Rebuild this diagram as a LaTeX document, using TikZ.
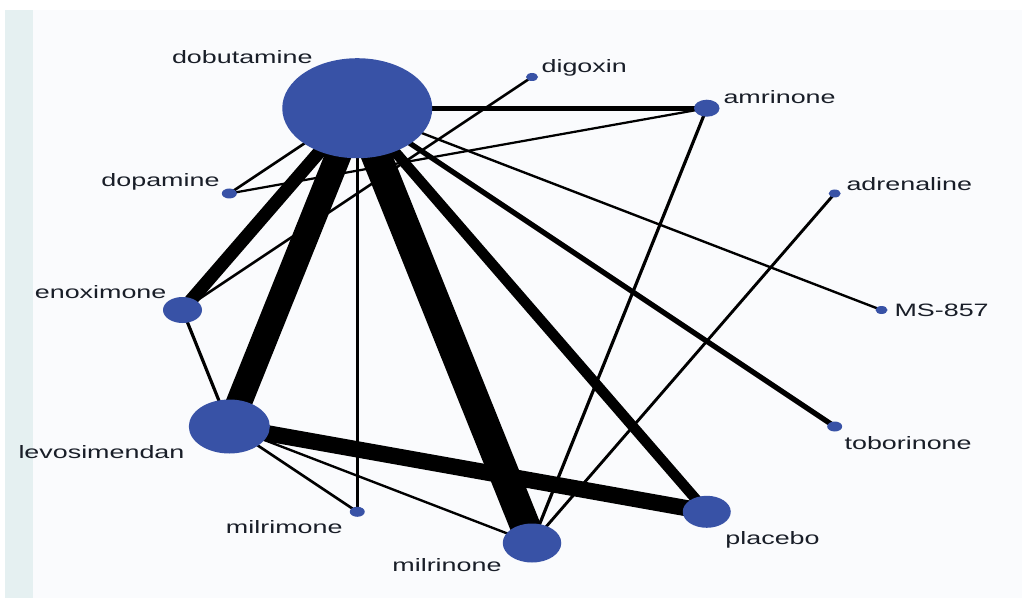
\documentclass[tikz,border=0pt]{standalone}
\usepackage{fontspec}
\setmainfont{Liberation Sans}
\usetikzlibrary{backgrounds}
\definecolor{netblue}{RGB}{56,82,166}
\definecolor{stripteal}{RGB}{229,240,241}
\definecolor{panelgray}{RGB}{250,251,253}
\definecolor{labink}{RGB}{25,30,40}

\begin{document}
\begin{tikzpicture}[
  x=0.2mm, y=0.2mm,
  trt/.style={circle, fill=netblue, draw=none, inner sep=0pt, minimum size=#1*0.4mm},
  lab/.style={font=\fontsize{10.2}{12}\selectfont, text=labink, inner sep=0pt},
  comp/.style={line width=#1*0.2mm, black},
  comp/.default=2.2
]
\useasboundingbox (0,0) rectangle (1022,-600);
% network drawn on a circle, stretched sideways like the printed figure
\begin{scope}[transform canvas={xscale=1.5}]
  \begin{scope}[shift={(354.67,-310)}]
    \node[trt=50]   (dobu)  at (120:233) {};
    \node[trt=4]    (digo)  at (90:233)  {};
    \node[trt=8.5]  (amri)  at (60:233)  {};
    \node[trt=4]    (adre)  at (30:233)  {};
    \node[trt=4]    (ms857) at (0:233)   {};
    \node[trt=5]    (tobo)  at (-30:233) {};
    \node[trt=16]   (plac)  at (-60:233) {};
    \node[trt=19.5] (milri) at (-90:233) {};
    \node[trt=5]    (milm)  at (-120:233) {};
    \node[trt=27]   (levo)  at (-150:233) {};
    \node[trt=13]   (enox)  at (180:233) {};
    \node[trt=5]    (dopa)  at (150:233) {};
  \end{scope}
  \node[lab, anchor=east] (dobulab)  at (208.7,-57)  {dobutamine};
  \node[lab, anchor=west] (digolab)  at (360.7,-68)  {digoxin};
  \node[lab, anchor=west] (amrilab)  at (482,-97)    {amrinone};
  \node[lab, anchor=west] (adrelab)  at (564,-184)   {adrenaline};
  \node[lab, anchor=west] (mslab)    at (596,-310)   {MS-857};
  \node[lab, anchor=west] (tobolab)  at (562.7,-443) {toborinone};
  \node[lab, anchor=west] (placlab)  at (483.3,-540) {placebo};
  \node[lab, anchor=east] (milrilab) at (334.7,-565) {milrinone};
  \node[lab, anchor=east] (milmlab)  at (228.7,-527) {milrimone};
  \node[lab, anchor=east] (levolab)  at (123.3,-452) {levosimendan};
  \node[lab, anchor=east] (enoxlab)  at (111.3,-292) {enoximone};
  \node[lab, anchor=east] (dopalab)  at (146.7,-182) {dopamine};
\end{scope}
\begin{scope}[on background layer]
  \fill[stripteal] (5,-10) rectangle (33,-598);
  \fill[panelgray] (33,-10) rectangle (1022,-598);
  \begin{scope}[transform canvas={xscale=1.5}]
    % comparisons, width ~ number of trials
    \draw[comp=21] (dobu.center) -- (milri.center);
    \draw[comp=18] (dobu.center) -- (levo.center);
    \draw[comp=16] (levo.center) -- (plac.center);
    \draw[comp=10] (dobu.center) -- (enox.center);
    \draw[comp=8]  (dobu.center) -- (plac.center);
    \draw[comp=5]  (dobu.center) -- (amri.center);
    \draw[comp=4.5] (dobu.center) -- (tobo.center);
    \draw[comp] (dobu.center) -- (dopa.center);
    \draw[comp] (dobu.center) -- (milm.center);
    \draw[comp] (dobu.center) -- (ms857.center);
    \draw[comp] (dopa.center) -- (amri.center);
    \draw[comp] (digo.center) -- (enox.center);
    \draw[comp] (amri.center) -- (milri.center);
    \draw[comp] (adre.center) -- (milri.center);
    \draw[comp] (levo.center) -- (milri.center);
    \draw[comp] (levo.center) -- (milm.center);
    \draw[comp] (levo.center) -- (enox.center);
  \end{scope}
\end{scope}
\end{tikzpicture}
\end{document}
